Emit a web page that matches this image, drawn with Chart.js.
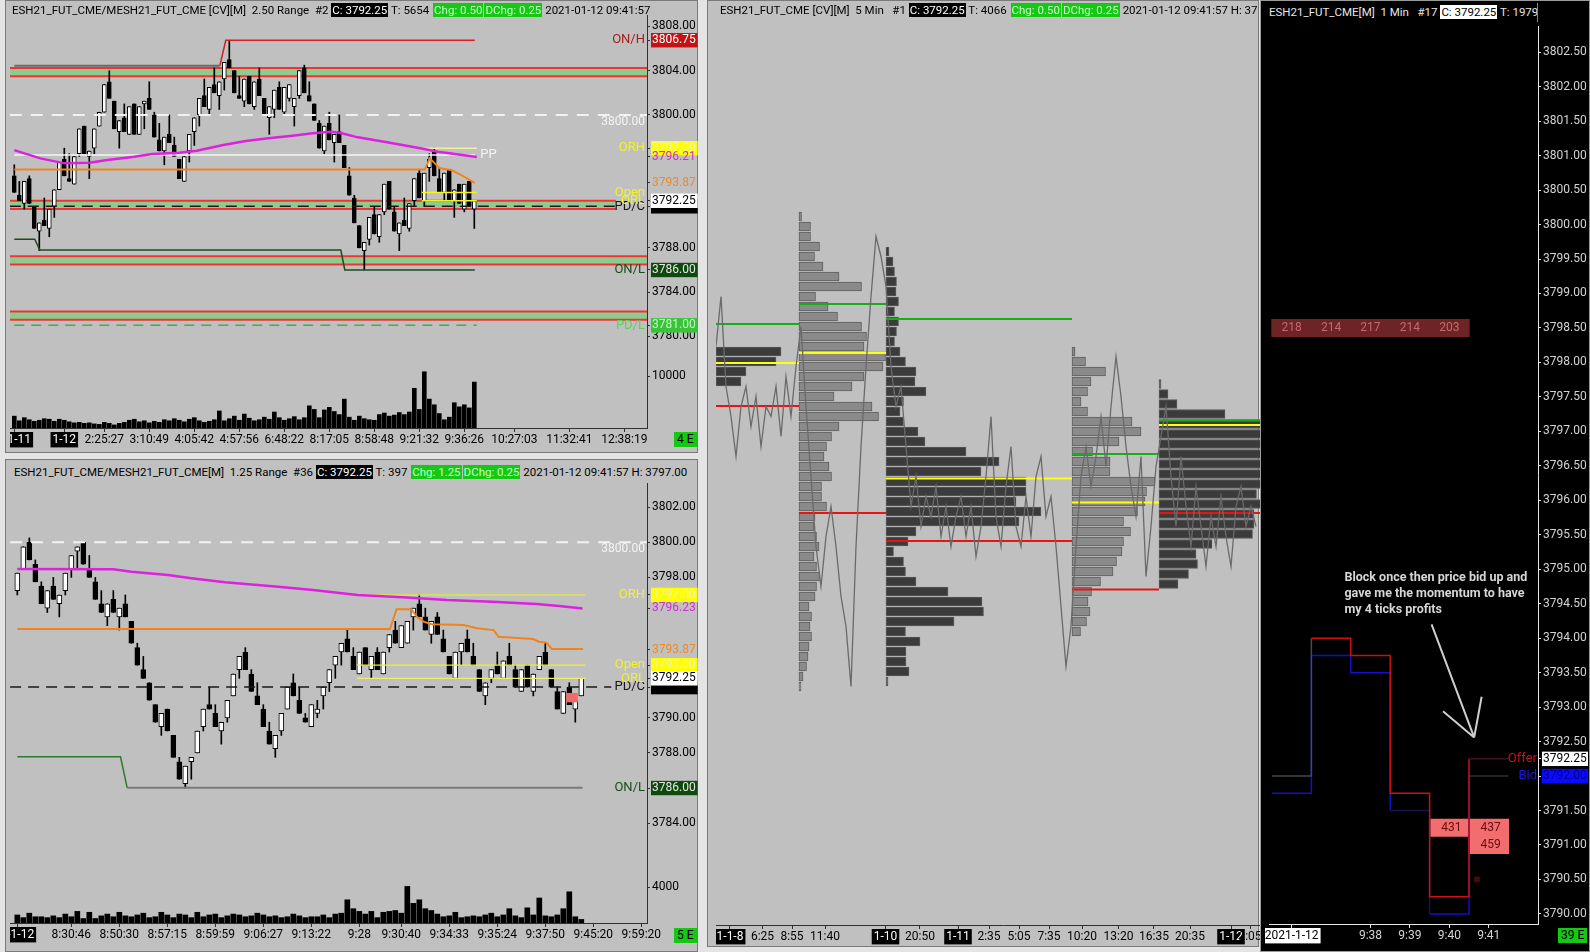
<!DOCTYPE html>
<html>
<head>
<meta charset="utf-8">
<script src="https://cdn.jsdelivr.net/npm/chart.js"></script>
<style>
html, body { margin: 0; padding: 0; }
body { width: 1590px; height: 952px; background: #e4e4e4; position: relative; overflow: hidden; font-family: Roboto, "Noto Sans", sans-serif; }
.panel { position: absolute; box-sizing: border-box; background: #c0c0c0; border: 1px solid #7a7a7a; }
.ttl { position: absolute; font-size: 11.5px; line-height: 15px; white-space: nowrap; overflow: hidden; color: #000; }
.ttl span { padding: 0 1px; }
.bk { background: #000; color: #fff; }
.gr { background: #14c814; color: #c8ffc8; margin-left: 1px; }
.wt { background: #fff; color: #000; }
.et { position: absolute; background: #14c814; color: #000; font-size: 12px; line-height: 15px; padding: 0 3px; }
canvas { position: absolute; }
</style>
</head>
<body>
<div class="panel" style="left:5px;top:0;width:693px;height:453px"></div>
<div class="panel" style="left:5px;top:459px;width:693px;height:493px"></div>
<div class="panel" style="left:707px;top:0;width:552px;height:947px"></div>

<canvas id="tlPrice" width="688" height="340" style="left:10px;top:15px"></canvas>
<canvas id="tlVol" width="688" height="95" style="left:10px;top:355px"></canvas>
<canvas id="blPrice" width="688" height="377" style="left:10px;top:483px"></canvas>
<canvas id="blVol" width="688" height="85" style="left:10px;top:860px"></canvas>
<canvas id="md" width="574" height="923" style="left:716px;top:22px"></canvas>

<div class="panel" style="left:1260px;top:0;width:330px;height:952px;background:#000;border-color:#9a9a9a;z-index:2"></div>
<canvas id="rt" width="323" height="923" style="left:1265px;top:22px;z-index:3"></canvas>

<div class="ttl" style="left:12px;top:3px;width:684px">ESH21_FUT_CME/MESH21_FUT_CME [CV][M]&nbsp; 2.50 Range&nbsp; #2 <span class="bk">C: 3792.25</span> T: 5654 <span class="gr">Chg: 0.50</span><span class="gr">DChg: 0.25</span> 2021-01-12 09:41:57</div>
<div class="ttl" style="left:14px;top:465px;width:682px">ESH21_FUT_CME/MESH21_FUT_CME[M]&nbsp; 1.25 Range&nbsp; #36 <span class="bk">C: 3792.25</span> T: 397 <span class="gr">Chg: 1.25</span><span class="gr">DChg: 0.25</span> 2021-01-12 09:41:57 H: 3797.00</div>
<div class="ttl" style="left:720px;top:3px;width:537px">ESH21_FUT_CME [CV][M]&nbsp; 5 Min&nbsp;&nbsp; #1 <span class="bk">C: 3792.25</span> T: 4066 <span class="gr">Chg: 0.50</span><span class="gr">DChg: 0.25</span> 2021-01-12 09:41:57 H: 3797.00</div>
<div class="ttl" style="left:1269px;top:5px;width:268px;color:#e6e6e6;z-index:4">ESH21_FUT_CME[M]&nbsp; 1 Min&nbsp;&nbsp; #17 <span class="wt">C: 3792.25</span> T: 1979</div>
<div style="position:absolute;left:1537px;top:3px;width:1px;height:19px;background:#22d022;z-index:4"></div>

<div class="et" style="left:674px;top:432px">4 E</div>
<div class="et" style="left:674px;top:928px">5 E</div>
<div class="et" style="left:1558px;top:928px;z-index:4">39 E</div>

<script>
// ---------- top-left: ESH21 2.50 Range  [open, high, low, close]
const tlCandles = [
  [3794.5,3795.5,3793.0,3793.0],[3792.75,3794.0,3792.25,3792.25],[3792.0,3794.0,3791.5,3794.0],[3794.25,3794.5,3792.0,3792.0],
  [3791.75,3791.75,3789.75,3789.75],[3789.5,3790.25,3787.75,3790.25],[3790.5,3792.5,3790.0,3790.0],[3789.75,3791.5,3789.0,3791.5],
  [3791.75,3793.25,3790.75,3793.25],[3793.25,3795.75,3793.25,3795.75],[3796.0,3797.0,3794.5,3794.5],[3794.25,3796.5,3794.0,3794.0],
  [3793.75,3796.25,3793.75,3796.25],[3796.5,3798.75,3796.25,3798.75],[3799.0,3799.0,3796.5,3796.5],[3796.25,3796.75,3794.25,3796.75],
  [3797.0,3798.75,3796.5,3798.75],[3799.0,3800.25,3799.0,3800.25],[3800.25,3802.75,3800.25,3802.75],[3803.0,3804.0,3801.5,3801.5],
  [3801.25,3801.25,3798.75,3798.75],[3798.5,3799.5,3797.0,3799.5],[3799.75,3801.0,3798.5,3798.5],[3798.25,3800.75,3798.25,3800.75],
  [3801.0,3801.0,3798.25,3798.25],[3798.25,3800.75,3798.25,3800.75],[3801.0,3801.25,3798.75,3801.25],[3801.5,3803.0,3800.5,3800.5],
  [3800.0,3800.25,3798.0,3798.0],[3797.75,3799.25,3796.75,3796.75],[3796.75,3798.0,3795.5,3798.0],[3798.25,3800.0,3797.5,3797.5],
  [3797.25,3798.0,3796.25,3796.25],[3796.0,3796.0,3794.25,3794.25],[3794.0,3796.25,3794.0,3796.25],[3796.75,3798.25,3795.75,3798.25],
  [3798.5,3799.75,3797.25,3799.75],[3800.0,3801.5,3799.0,3801.5],[3801.75,3803.25,3800.75,3800.75],[3800.5,3802.5,3800.0,3802.5],
  [3802.75,3804.25,3802.0,3802.0],[3801.75,3803.0,3800.5,3803.0],[3803.25,3804.75,3802.25,3804.75],[3805.0,3806.75,3804.25,3804.25],
  [3804.0,3804.0,3802.0,3802.0],[3801.75,3803.5,3801.5,3801.5],[3801.25,3803.25,3800.75,3803.25],[3803.5,3803.5,3801.0,3801.0],
  [3800.75,3803.0,3800.5,3803.0],[3803.25,3804.25,3801.75,3801.75],[3801.5,3801.5,3800.0,3800.0],[3799.75,3800.75,3798.25,3800.75],
  [3800.5,3802.25,3799.75,3802.25],[3802.5,3803.0,3800.5,3800.5],[3800.25,3802.5,3800.0,3802.5],[3801.5,3802.75,3801.25,3802.75],
  [3800.75,3801.5,3799.0,3801.5],[3801.75,3804.0,3801.5,3804.0],[3804.25,3804.5,3802.0,3802.0],[3801.75,3803.0,3801.25,3801.25],
  [3801.0,3801.0,3799.5,3799.5],[3799.25,3799.5,3797.0,3797.0],[3796.75,3799.0,3796.5,3799.0],[3799.25,3800.25,3797.75,3797.75],
  [3797.5,3798.25,3795.75,3798.25],[3798.5,3800.0,3797.5,3797.5],[3797.25,3797.25,3795.25,3795.25],[3794.5,3795.25,3792.75,3792.75],
  [3792.5,3792.75,3790.25,3790.25],[3790.0,3790.0,3788.0,3788.0],[3787.75,3788.5,3786.0,3788.5],[3788.75,3790.75,3788.25,3790.75],
  [3791.0,3791.75,3789.25,3789.25],[3789.0,3791.0,3788.5,3791.0],[3791.25,3793.75,3791.0,3793.75],[3794.0,3794.0,3791.5,3791.5],
  [3791.25,3791.75,3789.5,3789.5],[3789.25,3790.25,3787.75,3790.25],[3790.5,3792.5,3790.0,3790.0],[3789.75,3792.0,3789.5,3792.0],
  [3792.25,3794.25,3791.75,3794.25],[3794.75,3795.0,3792.5,3792.5],[3792.25,3794.75,3791.75,3794.75],[3795.25,3796.5,3794.0,3796.0],
  [3796.75,3797.0,3794.5,3794.5],[3794.25,3795.25,3793.0,3793.0],[3793.0,3794.75,3792.25,3794.75],[3795.0,3795.0,3792.25,3792.25],
  [3792.25,3793.25,3790.75,3793.25],[3793.75,3793.75,3792.0,3792.0],[3791.5,3793.75,3791.25,3793.75],[3794.0,3794.0,3791.75,3791.75],
  [3791.5,3792.25,3789.75,3792.25]
];
const tlVolume = [
  2300,1400,2000,1600,1300,1500,1800,1700,1300,1700, 1500,1200,1000,1100,900,1000,800,700,1100,900,
  600,900,1100,1500,1700,1200,1400,1000,1300,1100, 1600,1400,1800,1500,1200,1700,2000,1400,1100,1300,
  1600,3300,1400,1800,2300,1500,2700,1900,1400,1600, 2100,1700,3100,2000,1500,1800,2200,1600,2000,4300,
  3600,2000,3500,4000,3200,2600,5600,2100,1500,2300, 1800,1600,1500,2600,2900,2300,2500,3000,2600,3100,
  7700,3600,10900,5600,4500,2800,1600,2100,4900,4100, 4500,3900,8900
];
const tlTimeAt = [0,10,18,27,36,45,54,63,72,81,90,100,111,122];
const tlTimeLabels = ['1-1-11','1-12','2:25:27','3:10:49','4:05:42','4:57:56','6:48:22','8:17:05','8:58:48','9:21:32','9:36:26','10:27:03','11:32:41','12:38:19'];
const tlPriceTicks = [3808,3804,3800,3788,3784,3780];
const tlBoxValues = [3806.75,3797.00,3796.21,3793.87,3791.75,3792.25,3786.00,3781.00];
const tlVwap = [[0,3796.83],[5.2,3796.08],[10.1,3795.63],[15,3795.69],[18.6,3795.93],[24,3796.23],[27.5,3796.47],[32.9,3796.59],[36.5,3796.77],[41.8,3797.29],[46.3,3797.65],[50.8,3797.89],[55.2,3798.1],[59.7,3798.34],[63.3,3798.49],[65.1,3798.4],[68.7,3797.98],[73.1,3797.65],[77.6,3797.29],[81.2,3796.99],[84.7,3796.68],[87.4,3796.53],[92.5,3796.21]];
const tlOrange = [[0,3795.08],[82.1,3795.08],[83.1,3796.08],[85.1,3795.18],[87.4,3795.03],[89.4,3794.57],[92.1,3793.87]];
const tlOnl = [[0,3788.77],[4.1,3788.77],[5.1,3787.8],[65.3,3787.8],[66.1,3786.0],[92.1,3786.0]];
const tlOnhPrev = [[0,3804.45],[41.1,3804.45]];
const tlOnh = [[41.1,3804.45],[42.3,3806.75],[92.1,3806.75]];
const tlPp = [[0,3796.38],[92.1,3796.38]];
const tlOrh = [[81.5,3797.0],[92.5,3797.0]];
const tlOpen = [[81.5,3793.0],[92.5,3793.0]];
const tlOrl = [[81.5,3792.25],[92.5,3792.25]];
const tlPdc = [[-0.9,3791.75],[120.3,3791.75]];
const tlPdl = [[0,3781.0],[92.5,3781.0]];
const tl3800 = [[-0.9,3800.0],[126.6,3800.0]];
const tlBands = [[3804.25,3803.5],[3792.25,3791.5],[3787.25,3786.5],[3782.25,3781.5]];
const tlBandEnds = [126.6,120.3,126.6,126.6];
const tlTagNames = ['ON/H','3800.00','ORH','PP','Open','PD/C','ORL','ON/L','PD/L'];
const tlTagPrices = [3806.75,3800.0,3797.0,3796.38,3793.0,3791.75,3792.25,3786.0,3781.0];

// ---------- bottom-left: 1.25 Range
const blCandles = [
  [3797.25,3798.25,3797.0,3798.25],[3798.5,3799.75,3798.5,3799.75],[3800.0,3800.25,3799.0,3799.0],[3798.75,3799.0,3797.75,3797.75],
  [3797.5,3797.75,3796.5,3796.5],[3796.25,3797.25,3796.0,3797.25],[3797.5,3798.0,3796.75,3796.75],[3796.5,3797.0,3795.75,3797.0],
  [3797.25,3798.25,3797.0,3798.25],[3798.5,3799.25,3798.0,3799.25],[3799.5,3799.75,3798.5,3799.75],[3800.0,3800.0,3798.75,3798.75],
  [3798.5,3799.25,3798.0,3798.0],[3797.75,3798.0,3796.75,3796.75],[3796.5,3797.25,3796.0,3796.0],[3795.75,3796.5,3795.25,3796.5],
  [3796.75,3797.25,3796.0,3796.0],[3795.75,3796.25,3795.0,3796.25],[3796.5,3797.0,3795.75,3795.75],[3795.5,3795.5,3794.25,3794.25],
  [3794.0,3794.25,3793.0,3793.0],[3792.75,3793.5,3792.25,3792.25],[3792.0,3792.0,3791.0,3791.0],[3790.75,3790.75,3789.75,3789.75],
  [3789.5,3790.25,3789.0,3790.25],[3790.5,3790.5,3789.25,3789.25],[3789.0,3789.0,3787.75,3787.75],[3787.5,3787.75,3786.5,3786.5],
  [3786.25,3787.25,3786.0,3787.25],[3787.5,3787.75,3786.5,3787.75],[3788.0,3789.25,3788.0,3789.25],[3789.5,3790.5,3789.25,3790.5],
  [3790.75,3791.75,3790.5,3790.5],[3790.25,3790.75,3789.5,3789.5],[3789.25,3789.75,3788.5,3789.75],[3790.0,3791.0,3789.75,3791.0],
  [3791.25,3792.5,3791.25,3792.5],[3792.75,3793.5,3792.25,3793.5],[3793.75,3794.0,3792.75,3792.75],[3792.5,3792.75,3791.5,3791.5],
  [3791.25,3792.0,3790.75,3790.75],[3790.5,3790.75,3789.5,3789.5],[3789.25,3789.75,3788.5,3788.5],[3788.25,3789.0,3787.75,3789.0],
  [3789.25,3790.25,3789.0,3790.25],[3790.5,3791.75,3790.5,3791.75],[3792.0,3792.5,3791.25,3791.25],[3791.0,3791.75,3790.25,3790.25],
  [3790.0,3790.25,3789.75,3789.75],[3789.5,3790.75,3789.5,3790.75],[3790.25,3791.0,3790.0,3790.5],[3791.25,3791.75,3790.5,3791.75],
  [3792.0,3792.75,3791.5,3792.75],[3793.0,3793.5,3792.25,3793.5],[3793.75,3794.25,3793.0,3794.25],[3794.5,3795.0,3793.75,3793.75],
  [3793.5,3794.0,3792.75,3792.75],[3792.5,3793.75,3792.5,3793.75],[3794.0,3794.0,3793.0,3793.0],[3792.75,3793.5,3792.25,3793.5],
  [3793.75,3794.0,3792.75,3792.75],[3792.5,3793.75,3792.5,3793.75],[3794.0,3794.75,3793.75,3794.75],[3795.0,3795.5,3794.25,3794.25],
  [3794.0,3795.25,3794.0,3795.25],[3794.25,3795.5,3794.25,3795.5],[3795.75,3796.25,3795.0,3796.25],[3796.5,3797.0,3795.75,3795.75],
  [3795.75,3796.25,3795.0,3795.0],[3794.75,3795.5,3794.25,3795.5],[3795.75,3796.0,3794.75,3794.75],[3794.5,3795.0,3793.75,3793.75],
  [3793.5,3793.5,3792.5,3792.5],[3792.25,3793.75,3792.25,3793.75],[3793.75,3794.25,3793.0,3794.25],[3794.5,3795.0,3793.75,3793.75],
  [3793.5,3794.25,3793.0,3793.0],[3792.75,3792.75,3791.5,3791.5],[3791.25,3792.0,3790.75,3792.0],[3792.25,3792.75,3792.0,3792.75],
  [3793.0,3793.75,3792.5,3792.5],[3792.25,3793.25,3792.25,3793.25],[3793.5,3794.25,3793.0,3793.0],[3792.75,3793.0,3791.75,3791.75],
  [3791.5,3792.75,3791.5,3792.75],[3793.0,3793.0,3791.75,3791.75],[3791.5,3792.5,3791.25,3792.5],[3792.75,3793.5,3792.75,3793.5],
  [3793.75,3794.25,3793.0,3793.0],[3792.75,3792.75,3791.75,3791.75],[3791.5,3791.75,3790.5,3790.5],[3790.25,3791.5,3790.25,3791.5],
  [3791.75,3792.0,3790.75,3790.75],[3790.5,3791.0,3789.75,3791.0],[3791.25,3792.25,3791.25,3792.25]
];
const blVolume = [
  900,600,1100,700,700,600,800,600,1000,700, 1300,500,1200,500,800,1000,700,1200,800,700,
  900,1100,600,700,1200,900,600,1000,900,600, 1200,700,900,1000,600,800,1000,900,700,800,
  1100,900,700,800,600,700,1000,800,600,700, 700,900,600,1000,1100,2600,1600,1300,1000,1300,
  600,1200,1300,1400,1100,4100,2200,2600,1600,1400, 1000,700,800,1200,600,700,800,700,900,1100,
  700,900,1600,800,600,1700,900,2800,800,700, 900,1600,3500,700,400
];
const blTimeAt = [0,9,17,25,33,41,49,57,64,72,80,88,96,104];
const blTimeLabels = ['1-1-12','8:30:46','8:50:30','8:57:15','8:59:59','9:06:27','9:13:22','9:28','9:30:40','9:34:33','9:35:24','9:37:50','9:45:20','9:59:20'];
const blPriceTicks = [3802,3800,3798,3790,3788,3784];
const blBoxValues = [3797.00,3796.23,3793.87,3793.00,3791.75,3792.25,3786.00];
const blVwap = [[0,3798.48],[16,3798.46],[19,3798.33],[25.1,3798.14],[29,3797.95],[34.6,3797.72],[43,3797.48],[49.3,3797.28],[56.7,3797.0],[64.2,3796.87],[71.6,3796.71],[79.1,3796.62],[86.5,3796.48],[90.3,3796.37],[94.2,3796.23]];
const blOrange = [[0,3795.06],[62.1,3795.06],[63.2,3796.18],[65.7,3796.18],[66.6,3795.76],[67.7,3795.48],[69.1,3795.33],[74.4,3795.29],[76.6,3795.1],[79.4,3795.0],[80.2,3794.62],[86,3794.49],[86.9,3794.34],[88.2,3794.28],[89.1,3793.92],[94.3,3793.92]];
const blOnlPrev = [[0,3787.78],[17.2,3787.78],[18.3,3786.02]];
const blOnl = [[18.3,3786.02],[94.2,3786.02]];
const blOrh = [[56.6,3797.0],[94.7,3797.0]];
const blOpen = [[56.6,3793.0],[94.7,3793.0]];
const blOrl = [[56.6,3792.25],[94.7,3792.25]];
const blPdc = [[-1.2,3791.75],[99,3791.75]];
const bl3800 = [[-1.2,3800.0],[105,3800.0]];
const blMark = [[92.45,3790.9,3791.4]];
const blTagNames = ['3800.00','ORH','Open','PD/C','ORL','ON/L'];
const blTagPrices = [3800.0,3797.0,3793.0,3791.75,3792.25,3786.0];

// ---------- middle: 5 Min composite profiles
const mdTimeAt = [2.8,9.3,15.2,21.8,33.9,40.8,48.4,54.6,60.6,66.6,73.2,80.5,87.6,94.8,103,106.8];
const mdTimeLabels = ['1-1-8','6:25','8:55','11:40','1-10','20:50','1-11','2:35','5:05','7:35','10:20','13:20','16:35','20:35','1-12','2:05'];
const mdProfStart = [0,16.6,34,71.2,88.6];
const mdProfTop = [3809.5,3823,3819.5,3809.5,3806.25];
const mdProfA = [13,12,6,5];
const mdProfB = [0.5,2.3,2.3,4.1,3.1,4.8,8.0,12.5,3.3,5.8,7.7,12.5,13.5,13.0,17.3,16.8,13.0,10.6,7.0,14.6,15.9,8.0,6.5,5.5,5.0,6.0,6.5,4.5,4.5,5.5,3.2,3.0,3.5,4.0,3.0,3.5,4.1,3.5,3.2,2.0,2.5,2.2,2.5,2.0,1.8,1.5,0.8,0.3];
const mdProfC = [0.6,1.4,1.7,2.1,2.0,2.5,1.7,2.5,2.1,1.7,2.8,3.9,6.0,5.8,8.0,3.5,2.8,3.5,6.4,7.8,16,22.6,19,28,28,26,31,26.6,6.0,4.4,1.5,3.5,3.9,6.0,12.4,19.2,19.5,13.6,3.9,6.8,4.0,4.0,4.6,0.2];
const mdProfD = [0.6,2.7,6.7,3.8,3.1,1.8,3.1,12,13.8,9.4,4.1,7.6,7.6,16.6,14.9,14.6,13.1,10.3,11.7,10.3,10,8.9,8.2,5.7,3.9,3.2,3.6,2.9,1.7];
const mdProfE = [0.3,1.8,3.6,13.2,24,24,24,24,24,24,24,19.5,24,19,19,18.7,10.6,7.4,7.7,5.9,3.8];
const mdVah = [3812.25,3814.25,3812.75,3799.25,3802.6];
const mdPoc = [3808.35,3809.35,3796.8,3794.4,3802.15];
const mdVal = [3804.05,3793.35,3790.55,3785.7,3793.35];
const mdClose = [
  3810,3815,3806,3803,3799,3804,3806,3802,3805,3800,3804,3803,3806,3801,3807,3803,3808,
  3812,3804,3797,3790,3786,3791,3794,3790,3785,3782,3776,3790,3800,3808,3815,3821,3819,
  3816,3808,3804,3806,3800,3794,3797,3792,3795,3793,3796,3791,3794,3790,3793,3795,3791,3794,3789,3792,
  3797,3803,3793,3790,3796,3800,3792,3790,3795,3791,3797,3799,3793,3795,3790,3784,3778,3782,
  3790,3797,3800,3796,3799,3803,3798,3804,3809,3805,3800,3796,3793,3799,3787,3792,3798,
  3801,3804,3797,3792,3799,3794,3790,3796,3792,3788,3793,3790,3795,3791,3788,3794,3796,3792,3794,3792
];

// ---------- right: 1 Min bid/offer
const rtMinutes = [36,37,38,39,40,41];
const rtOffer = [3792.0,3794.0,3793.75,3791.75,3790.25,3792.25];
const rtBid = [3791.75,3793.75,3793.5,3791.5,3790.0,3792.0];
const rtCellMin = [36,37,38,39,40];
const rtCellVals = [218,214,217,214,203];
const rtCellPrice = 3798.5;
const rtBlockMin = [40,41,41];
const rtBlockPrice = [3791.25,3791.25,3791.0];
const rtBlockVol = [431,437,459];
const rtDot = [[41.2,3790.5]];
const rtTimeAt = [36.5,38.5,39.5,40.5,41.5];
const rtTimeLabels = ['2021-1-12','9:38','9:39','9:40','9:41'];
const rtPriceTicks = [3802.5,3802,3801.5,3801,3800.5,3800,3799.5,3799,3798.5,3798,3797.5,3797,3796.5,3796,3795.5,3795,3794.5,3794,3793.5,3793,3792.5,3791.5,3791,3790.5,3790];
const rtBoxValues = [3792.25,3792.00];
const rtNote = ['Block once then price bid up and','gave me the momentum to have','my 4 ticks profits'];
const rtNoteAt = [37.84,3794.88];
const rtArrow = [[40.05,3794.2],[41.13,3792.56]];
const rtArrowHead = [[40.34,3792.94],[41.32,3793.15]];

// ---------- styles
const boxTL = {
  '3806.75': { bg: '#c51212', fg: '#ffffff' },
  '3797.00': { bg: '#ffff00', fg: '#f4f4a0' },
  '3796.21': { fg: '#d42ad4' },
  '3793.87': { fg: '#f08a24' },
  '3791.75': { bg: '#000000', fg: '#000000' },
  '3792.25': { bg: '#ffffff', fg: '#000000' },
  '3786.00': { bg: '#0e4a0e', fg: '#e6e6e6' },
  '3781.00': { bg: '#38c438', fg: '#c6f6c6' }
};
const boxBL = {
  '3797.00': { bg: '#ffff00', fg: '#f4f4a0' },
  '3796.23': { fg: '#d42ad4' },
  '3793.87': { fg: '#f08a24' },
  '3793.00': { bg: '#ffff00', fg: '#f4f4a0' },
  '3791.75': { bg: '#000000', fg: '#000000' },
  '3792.25': { bg: '#ffffff', fg: '#000000' },
  '3786.00': { bg: '#0e4a0e', fg: '#e6e6e6' }
};
const boxRT = {
  '3792.25': { bg: '#ffffff', fg: '#000000' },
  '3792.00': { bg: '#0a0aff', fg: '#00008a' }
};
const dateBox = {
  '1-1-11': { bg: '#000', fg: '#fff' }, '1-12': { bg: '#000', fg: '#fff' }, '1-1-12': { bg: '#000', fg: '#fff' },
  '1-1-8': { bg: '#000', fg: '#fff' }, '1-10': { bg: '#000', fg: '#fff' }, '1-11': { bg: '#000', fg: '#fff' }
};
const tagStyle = {
  'ON/H': { color: '#a81c1c' },
  '3800.00': { color: '#f4f4f4', dy: 7, font: '12px Roboto, sans-serif' },
  'ORH': { color: '#f2f226' },
  'PP': { color: '#f4f4f4', at: 92.6 },
  'Open': { color: '#f2f226' },
  'ORL': { color: '#f2f226' },
  'PD/C': { color: '#141414' },
  'ON/L': { color: '#1a4d1a' },
  'PD/L': { color: '#5ad25a' }
};
const mdProfLight = [false, true, false, true, false];
const AX = '#303030';

Chart.defaults.font.family = "Roboto, 'Noto Sans', sans-serif";
Chart.defaults.font.size = 12;
Chart.defaults.plugins.legend.display = false;
Chart.defaults.plugins.tooltip.enabled = false;

function keyOf(c) {
  return c.tick ? c.tick.value.toFixed(2) : '';
}

function priceAxis(min, max, values, boxes, width, color, lineColor, digits) {
  return {
    type: 'linear', position: 'right', min: min, max: max, bounds: 'data', beginAtZero: false, offset: false,
    border: { color: lineColor },
    grid: { drawOnChartArea: false, tickLength: 3, tickColor: lineColor, offset: false },
    afterBuildTicks: s => { s.ticks = values.map(v => ({ value: v })); },
    afterFit: s => { s.width = width; s.paddingTop = 0; s.paddingBottom = 0; },
    ticks: {
      autoSkip: false, padding: 2, font: { size: 12 },
      callback: v => v.toFixed(digits),
      color: c => (boxes[keyOf(c)] || {}).fg || color,
      showLabelBackdrop: c => !!(boxes[keyOf(c)] || {}).bg,
      backdropColor: c => (boxes[keyOf(c)] || {}).bg || 'rgba(0,0,0,0)',
      backdropPadding: { left: 1, right: 2, top: 0, bottom: 0 }
    }
  };
}

function timeAxis(min, max, at, labels, boxes, height, color, lineColor) {
  return {
    type: 'linear', position: 'bottom', min: min, max: max, bounds: 'data', offset: false,
    border: { color: lineColor },
    grid: { drawOnChartArea: false, tickLength: 4, tickColor: lineColor, offset: false },
    afterBuildTicks: s => { s.ticks = at.map(v => ({ value: v })); },
    afterFit: s => { s.height = height; s.paddingLeft = 0; s.paddingRight = 0; },
    ticks: {
      autoSkip: false, maxRotation: 0, minRotation: 0, padding: 1, font: { size: 12 },
      callback: (v, i) => labels[i],
      color: c => (boxes[labels[c.index]] || {}).fg || color,
      showLabelBackdrop: c => !!boxes[labels[c.index]],
      backdropColor: c => (boxes[labels[c.index]] || {}).bg || 'rgba(0,0,0,0)',
      backdropPadding: { left: 2, right: 2, top: 1, bottom: 0 }
    }
  };
}

function hiddenX(min, max) {
  return { type: 'linear', min: min, max: max, display: false, offset: false, bounds: 'data', grid: { offset: false } };
}

function lineSet(pts, color, width, dash, order) {
  return {
    type: 'line', data: pts.map(p => ({ x: p[0], y: p[1] })),
    borderColor: color, borderWidth: width, borderDash: dash || [],
    pointRadius: 0, fill: false, tension: 0, order: order || 1
  };
}

function candleSets(candles, bodyW) {
  const wick = candles.map((c, i) => ({ x: i, y: [c[2], c[1]] }));
  const body = candles.map((c, i) => ({ x: i, y: [Math.min(c[0], c[3]), Math.max(c[0], c[3])] }));
  const fill = candles.map(c => c[3] >= c[0] ? '#ffffff' : '#000000');
  return [
    { type: 'bar', data: wick, backgroundColor: '#000', barThickness: 1, grouped: false, minBarLength: 1, order: 6 },
    { type: 'bar', data: body, backgroundColor: fill, borderColor: '#000', borderWidth: 1, borderSkipped: false,
      barThickness: bodyW, grouped: false, minBarLength: 2, order: 5 }
  ];
}

function bandSets(bands, ends, x0) {
  const out = [];
  bands.forEach((b, i) => {
    out.push({ type: 'line', data: [{ x: x0, y: b[1] }, { x: ends[i], y: b[1] }], borderColor: '#f03434', borderWidth: 2,
      pointRadius: 0, fill: { value: b[0] }, backgroundColor: '#8fca8f', order: 20 });
    out.push(lineSet([[x0, b[0]], [ends[i], b[0]]], '#f03434', 2, [], 19));
  });
  return out;
}

function tagPlugin(names, prices) {
  return {
    id: 'tags',
    afterDatasetsDraw(chart) {
      const ctx = chart.ctx, ys = chart.scales.y, xs = chart.scales.x, area = chart.chartArea;
      ctx.save();
      ctx.textBaseline = 'middle';
      names.forEach((name, i) => {
        const st = tagStyle[name];
        ctx.font = st.font || '13px Roboto, sans-serif';
        ctx.fillStyle = st.color;
        const py = ys.getPixelForValue(prices[i]) + (st.dy || 0);
        if (st.at !== undefined) {
          ctx.textAlign = 'left';
          ctx.fillText(name, xs.getPixelForValue(st.at) + 3, py);
        } else {
          ctx.textAlign = 'right';
          ctx.fillText(name, area.right - 2, py);
        }
      });
      ctx.restore();
    }
  };
}

function baseOptions(scales) {
  return { responsive: false, animation: false, layout: { padding: 0 }, scales: scales,
    plugins: { legend: { display: false }, tooltip: { enabled: false } } };
}

// ---------- top-left price
const tlX = [-0.86, 126.54];
new Chart('tlPrice', {
  type: 'bar',
  data: { datasets: [].concat(
    bandSets(tlBands, tlBandEnds, -0.9),
    candleSets(tlCandles, 4),
    [
      lineSet(tl3800, '#f2f2f2', 2, [12, 9], 3),
      lineSet(tlPdc, '#1a1a1a', 1.5, [11, 7], 3),
      lineSet(tlPdl, '#3db43d', 1.5, [10, 7], 3),
      lineSet(tlOnhPrev, '#6a6a6a', 2, [], 3),
      lineSet(tlOnh, '#d42020', 1.5, [], 3),
      lineSet(tlOnl, '#1c4c1c', 1.5, [], 3),
      lineSet(tlPp, '#f6f6f6', 1.5, [], 2),
      lineSet(tlOrh, '#f0f0a0', 1.5, [], 2),
      lineSet(tlOpen, '#f4f418', 1.5, [], 2),
      lineSet(tlOrl, '#f4f418', 1.5, [], 2),
      lineSet(tlVwap, '#dc22dc', 2.5, [], 1),
      lineSet(tlOrange, '#f0841c', 2, [], 1)
    ]) },
  options: baseOptions({
    x: hiddenX(tlX[0], tlX[1]),
    y: priceAxis(3778.32, 3809.03, tlPriceTicks.concat(tlBoxValues), boxTL, 51, '#000', AX, 2)
  }),
  plugins: [tagPlugin(tlTagNames, tlTagPrices)]
});

new Chart('tlVol', {
  type: 'bar',
  data: { datasets: [{ data: tlVolume.map((v, i) => ({ x: i, y: v })), backgroundColor: '#000', barThickness: 4, grouped: false }] },
  options: baseOptions({
    x: timeAxis(tlX[0], tlX[1], tlTimeAt, tlTimeLabels, dateBox, 22, '#000', AX),
    y: priceAxis(0, 14150, [10000], {}, 51, '#000', AX, 0)
  })
});

// ---------- bottom-left price
const blX = [-1.22, 104.95];
new Chart('blPrice', {
  type: 'bar',
  data: { datasets: [].concat(
    candleSets(blCandles, 5),
    [
      { type: 'bar', data: blMark.map(m => ({ x: m[0], y: [m[1], m[2]] })), backgroundColor: '#f06a6a', barThickness: 11, grouped: false, order: 0 },
      lineSet(bl3800, '#f2f2f2', 2, [12, 9], 3),
      lineSet(blPdc, '#1a1a1a', 1.5, [11, 7], 3),
      lineSet(blOnlPrev, '#2e7a2e', 1.5, [], 3),
      lineSet(blOnl, '#7a7a7a', 2, [], 3),
      lineSet(blOrh, '#f4f418', 1.2, [], 2),
      lineSet(blOpen, '#f4f418', 1.2, [], 2),
      lineSet(blOrl, '#eded70', 1.2, [], 2),
      lineSet(blVwap, '#dc22dc', 2.5, [], 1),
      lineSet(blOrange, '#f0841c', 2, [], 1)
    ]) },
  options: baseOptions({
    x: hiddenX(blX[0], blX[1]),
    y: priceAxis(3781.90, 3803.38, blPriceTicks.concat(blBoxValues), boxBL, 51, '#000', AX, 2)
  }),
  plugins: [tagPlugin(blTagNames, blTagPrices)]
});

new Chart('blVol', {
  type: 'bar',
  data: { datasets: [{ data: blVolume.map((v, i) => ({ x: i, y: v })), backgroundColor: '#000', barThickness: 5, grouped: false }] },
  options: baseOptions({
    x: timeAxis(blX[0], blX[1], blTimeAt, blTimeLabels, dateBox, 22, '#000', AX),
    y: priceAxis(0, 7060, [4000], {}, 51, '#000', AX, 0)
  })
});

// ---------- middle profiles
const mdProfiles = [mdProfA, mdProfB, mdProfC, mdProfD, mdProfE];
const mdEnds = mdProfStart.slice(1).concat([115]);
const mdSets = [];
mdProfiles.forEach((rows, p) => {
  mdSets.push({
    type: 'bar', indexAxis: 'y',
    data: rows.map((len, i) => ({ y: mdProfTop[p] - i, x: [mdProfStart[p], mdProfStart[p] + len] })),
    backgroundColor: mdProfLight[p] ? '#8a8a8a' : '#3b3b3b',
    borderColor: mdProfLight[p] ? '#5e5e5e' : '#5a5a5a',
    borderWidth: 1, borderSkipped: false, barThickness: 9, grouped: false, minBarLength: 2, order: 10
  });
  mdSets.push(lineSet([[mdProfStart[p], mdVah[p]], [mdEnds[p], mdVah[p]]], '#16b016', 2, [], 3));
  mdSets.push(lineSet([[mdProfStart[p], mdPoc[p]], [mdEnds[p], mdPoc[p]]], '#ffff10', 2, [], 3));
  mdSets.push(lineSet([[mdProfStart[p], mdVal[p]], [mdEnds[p], mdVal[p]]], '#e81414', 2, [], 3));
});
mdSets.push({ type: 'line', data: mdClose.map((v, i) => ({ x: i, y: v })), borderColor: '#6a6a6a', borderWidth: 1.3,
  pointRadius: 0, fill: false, tension: 0, order: 1 });

new Chart('md', {
  type: 'bar',
  data: { datasets: mdSets },
  options: baseOptions({
    x: timeAxis(0, 114.8, mdTimeAt, mdTimeLabels, dateBox, 20, '#000', AX),
    y: { type: 'linear', min: 3752.15, max: 3842.45, display: false, bounds: 'data', beginAtZero: false,
      offset: false, grid: { offset: false } }
  })
});

// ---------- right 1 min
function stepPts(vals) {
  const pts = rtMinutes.map((m, i) => ({ x: m, y: vals[i] }));
  pts.push({ x: rtMinutes[rtMinutes.length - 1] + 1, y: vals[vals.length - 1] });
  return pts;
}
const rtPlugin = {
  id: 'rtText',
  afterDatasetsDraw(chart) {
    const ctx = chart.ctx, xs = chart.scales.x, ys = chart.scales.y, area = chart.chartArea;
    ctx.save();
    ctx.textAlign = 'center';
    ctx.textBaseline = 'middle';
    ctx.font = '12px Roboto, sans-serif';
    ctx.fillStyle = '#c46a6a';
    rtCellVals.forEach((v, i) => ctx.fillText(String(v), xs.getPixelForValue(rtCellMin[i] + 0.5), ys.getPixelForValue(rtCellPrice)));
    ctx.fillStyle = '#6a0c0c';
    rtBlockVol.forEach((v, i) => ctx.fillText(String(v), xs.getPixelForValue(rtBlockMin[i] + 0.5) + 2, ys.getPixelForValue(rtBlockPrice[i])));
    ctx.textAlign = 'right';
    ctx.font = '13px Roboto, sans-serif';
    ctx.fillStyle = '#d01010';
    ctx.fillText('Offer', area.right - 1, ys.getPixelForValue(rtOffer[rtOffer.length - 1]));
    ctx.fillStyle = '#1a1ae6';
    ctx.fillText('Bid', area.right - 1, ys.getPixelForValue(rtBid[rtBid.length - 1]));
    ctx.textAlign = 'left';
    ctx.font = 'bold 12.5px Roboto, sans-serif';
    ctx.fillStyle = '#d6d6d6';
    const nx = xs.getPixelForValue(rtNoteAt[0]), ny = ys.getPixelForValue(rtNoteAt[1]);
    rtNote.forEach((t, i) => ctx.fillText(t, nx, ny + i * 16));
    ctx.strokeStyle = '#cfcfcf';
    ctx.lineWidth = 2;
    const tip = [xs.getPixelForValue(rtArrow[1][0]), ys.getPixelForValue(rtArrow[1][1])];
    ctx.beginPath();
    ctx.moveTo(xs.getPixelForValue(rtArrow[0][0]), ys.getPixelForValue(rtArrow[0][1]));
    ctx.lineTo(tip[0], tip[1]);
    rtArrowHead.forEach(h => { ctx.moveTo(xs.getPixelForValue(h[0]), ys.getPixelForValue(h[1])); ctx.lineTo(tip[0], tip[1]); });
    ctx.stroke();
    ctx.restore();
  }
};

new Chart('rt', {
  type: 'bar',
  data: { datasets: [
    { type: 'bar', data: rtCellMin.map(m => ({ x: m + 0.5, y: [rtCellPrice - 0.125, rtCellPrice + 0.125] })),
      backgroundColor: '#6e2424', barThickness: 40, grouped: false, order: 8 },
    { type: 'bar', data: rtBlockMin.map((m, i) => ({ x: m + 0.5, y: [rtBlockPrice[i] - 0.125, rtBlockPrice[i] + 0.125] })),
      backgroundColor: '#f26d6d', barThickness: 40, grouped: false, order: 7 },
    { type: 'line', data: stepPts(rtBid), stepped: true, borderWidth: 1.5, pointRadius: 0, fill: false, order: 3,
      borderColor: '#1010d0',
      segment: { borderColor: c => c.p0DataIndex === 3 ? '#16164a' : (c.p0DataIndex === 5 ? '#2e2e2e' : '#1010d0') } },
    { type: 'line', data: stepPts(rtOffer), stepped: true, borderWidth: 1.5, pointRadius: 0, fill: false, order: 2,
      borderColor: '#d01010',
      segment: { borderColor: c => c.p0DataIndex === 0 ? '#4a4a4a' : (c.p0DataIndex === 5 ? '#3c1616' : '#d01010') } },
    { type: 'line', data: rtDot.map(d => ({ x: d[0], y: d[1] })), showLine: false, pointStyle: 'rect', pointRadius: 4,
      backgroundColor: '#4a0a0a', borderWidth: 0, order: 1 }
  ] },
  options: baseOptions({
    x: timeAxis(35.925, 42.75, rtTimeAt, rtTimeLabels, { '2021-1-12': { bg: '#fff', fg: '#000' } }, 21, '#d4d4d4', '#e8e8e8'),
    y: priceAxis(3789.854, 3802.88, rtPriceTicks.concat(rtBoxValues), boxRT, 50, '#d4d4d4', '#e8e8e8', 2)
  }),
  plugins: [rtPlugin]
});
</script>
</body>
</html>
